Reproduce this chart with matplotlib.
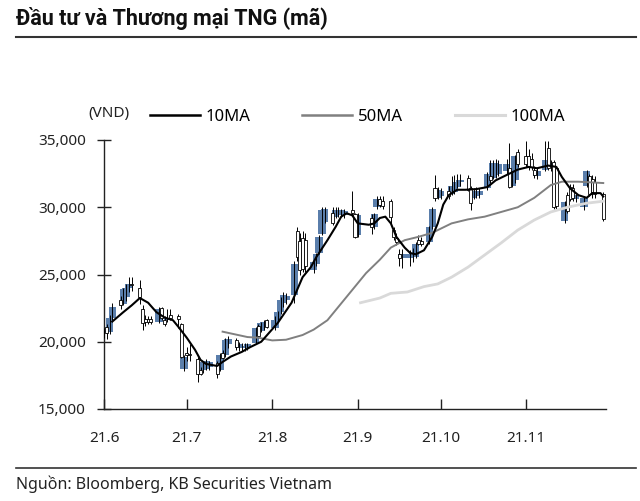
import numpy as np
import pandas as pd
import matplotlib
matplotlib.use('Agg')
import matplotlib.pyplot as plt
import matplotlib.dates as mdates
from matplotlib.lines import Line2D
from matplotlib.ticker import FuncFormatter

plt.rcParams['font.family'] = ['Noto Sans', 'DejaVu Sans']

#=============== data (prices in thousand VND) ===============
# trading days Jun 1 - Nov 29 2021, national day holiday Sep 2-3 closed
days = pd.bdate_range('2021-06-01', '2021-11-29')
days = days[~days.isin(pd.to_datetime(['2021-09-02', '2021-09-03']))]

opens = [20.7, 21.1, 20.7, 21.8, 23.1, 22.8, 23.3, 24.0, 24.3, 24.0, 22.4, 21.7, 21.7, 21.7,
         21.5, 22.5, 21.6, 21.6, 22.0, 21.9, 21.3, 18.0,
         19.2, 19.1, 18.7, 17.9, 17.9, 18.0, 18.1, 18.4, 17.9, 19.2, 19.0, 19.8,
         20.1, 19.5, 19.5, 19.6, 19.5, 19.9, 21.2, 20.8, 21.1, 21.6,
         21.0, 21.6, 22.2, 22.9, 23.1, 23.5, 28.2, 27.5, 27.7, 27.6, 25.3, 25.8, 26.6, 28.0, 28.9,
         29.6, 29.3, 29.4, 29.4, 29.4, 29.8, 29.5,
         27.9, 29.2, 28.5, 30.0, 30.6, 30.5, 30.5, 28.3, 27.7, 26.5, 26.2,
         26.2, 26.4, 26.3, 27.6, 27.5, 27.4, 28.5, 31.4, 30.7,
         30.8, 31.2, 31.0, 31.1, 31.5, 31.9, 32.2, 31.4, 30.7, 30.8, 30.9,
         31.4, 32.3, 32.2, 32.4, 32.5, 32.7, 32.9, 31.6, 32.0, 34.1,
         33.8, 33.8, 33.6, 32.8, 32.3, 32.8, 34.4, 33.0, 33.4, 32.9,
         29.0, 30.9, 31.5, 31.4, 30.6, 30.0, 31.6, 32.3, 32.1, 31.9, 31.0]
highs = [21.0, 21.3, 22.0, 22.9, 23.4, 24.0, 24.3, 24.8, 24.8, 24.6, 22.7, 22.0, 21.9, 21.9,
         22.6, 22.6, 21.9, 22.4, 22.4, 22.1, 21.4, 19.0,
         19.6, 19.8, 18.9, 18.1, 18.6, 18.7, 18.6, 18.6, 19.2, 19.4, 20.3, 20.4,
         20.3, 20.0, 19.9, 19.9, 19.9, 21.1, 21.3, 21.5, 21.6, 21.7,
         21.9, 22.3, 23.3, 23.7, 23.6, 26.0, 28.5, 28.1, 28.2, 28.1, 26.0, 26.6, 27.9, 30.0, 30.0,
         30.0, 30.0, 30.0, 29.9, 29.9, 31.2, 29.6,
         29.6, 29.5, 29.6, 30.8, 30.8, 30.8, 30.6, 28.5, 28.1, 26.9, 26.9,
         26.8, 27.0, 27.4, 27.9, 27.8, 28.6, 30.0, 32.4, 31.5,
         31.4, 31.6, 32.3, 32.4, 32.5, 32.5, 32.4, 31.6, 31.4, 31.5, 31.4,
         32.6, 33.5, 33.5, 33.6, 33.5, 33.6, 34.8, 32.7, 33.9, 34.3,
         34.9, 34.3, 34.0, 33.1, 32.9, 34.9, 34.9, 33.5, 33.5, 33.0,
         30.5, 31.1, 31.7, 31.7, 31.0, 30.8, 32.8, 32.5, 32.4, 32.3, 31.1]
lows = [20.3, 20.2, 20.6, 21.6, 22.4, 22.7, 23.0, 23.7, 23.8, 22.8, 20.9, 21.2, 21.3, 21.3,
        21.4, 21.6, 21.2, 21.5, 21.6, 21.0, 18.8, 17.8,
        18.6, 18.6, 17.0, 17.5, 17.7, 17.9, 17.9, 17.3, 17.8, 18.7, 18.9, 19.5,
        19.4, 19.3, 19.3, 19.3, 19.4, 19.8, 20.3, 20.7, 20.9, 21.0,
        20.9, 21.5, 22.1, 22.6, 22.8, 22.9, 26.0, 25.0, 25.2, 25.2, 25.1, 25.6, 26.5, 27.9, 28.8,
        28.7, 29.2, 29.3, 29.3, 29.2, 29.4, 27.7,
        27.8, 28.0, 28.4, 29.9, 30.0, 29.9, 28.7, 27.6, 27.2, 25.6, 25.5,
        25.6, 25.9, 26.2, 27.2, 27.1, 27.3, 28.4, 30.5, 30.6,
        30.6, 30.6, 30.9, 31.0, 31.4, 31.6, 31.2, 29.8, 30.6, 30.7, 30.7,
        31.3, 31.8, 32.1, 32.2, 32.3, 32.5, 31.4, 31.5, 31.8, 33.0,
        33.0, 32.8, 32.8, 32.2, 32.1, 32.7, 32.8, 32.7, 29.9, 29.9,
        28.8, 29.6, 30.5, 30.5, 30.4, 29.8, 31.5, 30.8, 30.7, 30.7, 29.0]
closes = [20.8, 20.65, 21.8, 22.6, 22.7, 23.9, 24.0, 24.3, 24.2, 23.3, 21.4, 21.5, 21.5, 21.5,
          22.4, 21.8, 21.3, 21.8, 21.8, 21.7, 18.9, 18.9,
          19.0, 19.0, 17.6, 17.6, 18.5, 18.6, 18.5, 17.6, 19.0, 18.8, 20.1, 20.2,
          19.6, 19.8, 19.7, 19.7, 19.8, 21.0, 20.4, 21.4, 21.5, 21.1,
          21.6, 22.2, 23.1, 23.5, 23.4, 25.8, 26.3, 25.3, 25.4, 25.6, 25.9, 26.5, 27.8, 29.8, 29.9,
          28.8, 29.8, 29.8, 29.8, 29.7, 29.6, 27.8,
          29.4, 28.5, 29.5, 30.6, 30.2, 30.1, 29.3, 27.8, 27.4, 26.2, 26.5,
          26.5, 26.6, 27.3, 27.3, 27.3, 28.5, 29.9, 30.7, 31.3,
          31.2, 30.8, 31.6, 31.6, 31.9, 32.0, 31.3, 30.3, 31.2, 31.2, 31.2,
          32.5, 32.0, 33.3, 33.3, 33.2, 33.2, 31.5, 32.6, 33.8, 33.2,
          33.2, 33.0, 33.0, 32.4, 32.7, 33.5, 32.9, 33.3, 30.0, 30.1,
          30.4, 29.7, 30.6, 30.7, 30.9, 30.7, 32.7, 31.0, 31.1, 31.0, 29.1]

ma10_dates = ['2021-06-04', '2021-06-08', '2021-06-11', '2021-06-14', '2021-06-17', '2021-06-20',
              '2021-06-23', '2021-06-26', '2021-06-28', '2021-07-01', '2021-07-04', '2021-07-06',
              '2021-07-08', '2021-07-12', '2021-07-14', '2021-07-17', '2021-07-21', '2021-07-24',
              '2021-07-28', '2021-08-03', '2021-08-08', '2021-08-12', '2021-08-15', '2021-08-17',
              '2021-08-21', '2021-08-24', '2021-08-26', '2021-08-28', '2021-08-30', '2021-09-01',
              '2021-09-05', '2021-09-07', '2021-09-09', '2021-09-11', '2021-09-13', '2021-09-15',
              '2021-09-18', '2021-09-20', '2021-09-22', '2021-09-25', '2021-09-28', '2021-09-30',
              '2021-10-02', '2021-10-04', '2021-10-07', '2021-10-10', '2021-10-14', '2021-10-18',
              '2021-10-21', '2021-10-25', '2021-10-29', '2021-11-02', '2021-11-05', '2021-11-09',
              '2021-11-12', '2021-11-14', '2021-11-17', '2021-11-20', '2021-11-23', '2021-11-25',
              '2021-11-28', '2021-11-29']
ma10 = [21.5, 22.2, 22.7, 23.25, 22.9, 22.2, 21.8, 21.6, 21.1, 20.3, 19.4, 18.65,
        18.35, 18.2, 18.5, 18.9, 19.25, 19.6, 20.0, 21.4, 22.9, 24.8, 25.55, 26.3,
        27.55, 28.55, 29.3, 29.55, 29.4, 28.8, 28.7, 28.8, 29.2, 29.3, 28.8, 27.8,
        27.0, 26.6, 26.5, 26.8, 27.8, 28.8, 30.2, 30.9, 31.3, 31.3, 31.35, 31.5,
        32.0, 32.4, 32.8, 33.0, 32.9, 33.1, 33.0, 32.25, 31.4, 30.9, 30.7, 31.05,
        31.05, 30.8]

ma50_dates = ['2021-07-14', '2021-07-23', '2021-07-27', '2021-08-01', '2021-08-06', '2021-08-12',
              '2021-08-16', '2021-08-21', '2021-08-25', '2021-08-30', '2021-09-04', '2021-09-09',
              '2021-09-13', '2021-09-18', '2021-09-23', '2021-09-28', '2021-09-30', '2021-10-05',
              '2021-10-11', '2021-10-17', '2021-10-23', '2021-10-29', '2021-11-04', '2021-11-10',
              '2021-11-14', '2021-11-20', '2021-11-29']
ma50 = [20.75, 20.35, 20.3, 20.1, 20.15, 20.5, 20.9, 21.6, 22.6, 23.85, 25.1, 26.1,
        27.0, 27.55, 27.8, 28.1, 28.3, 28.8, 29.1, 29.3, 29.65, 30.0, 30.7, 31.65,
        31.9, 31.9, 31.8]

ma100_dates = ['2021-09-02', '2021-09-09', '2021-09-13', '2021-09-19', '2021-09-25', '2021-09-30',
               '2021-10-05', '2021-10-11', '2021-10-17', '2021-10-23', '2021-10-29', '2021-11-04',
               '2021-11-10', '2021-11-16', '2021-11-23', '2021-11-29']
ma100 = [22.9, 23.25, 23.6, 23.7, 24.1, 24.3, 24.8, 25.55, 26.45, 27.35, 28.3, 29.05,
         29.65, 30.0, 30.3, 30.45]

month_ticks = ['2021-06-01', '2021-07-01', '2021-08-01', '2021-09-01', '2021-10-01', '2021-11-01']
month_labels = ['21.6', '21.7', '21.8', '21.9', '21.10', '21.11']

#=============== plot ===============
W, H = 640, 501
fig = plt.figure(figsize=(W / 100, H / 100), dpi=100)
ax = fig.add_axes([104 / W, 1 - 409 / H, (606 - 104) / W, (409 - 140) / H])

x = mdates.date2num(days)
o = np.array(opens); hi = np.array(highs); lo = np.array(lows); c = np.array(closes)
up = c >= o
blue = '#5a7eab'

ax.bar(x[up], (c - o)[up], bottom=o[up], width=2.7, color=blue, linewidth=0, zorder=2)
ax.vlines(x, lo, hi, color='black', linewidth=0.7, zorder=3)
ax.bar(x[~up], (o - c)[~up], bottom=c[~up], width=1.1, color='white',
       edgecolor='black', linewidth=0.6, zorder=4)

ax.plot(pd.to_datetime(ma100_dates), ma100, color='#d9d9d9', lw=2.0, zorder=5)
ax.plot(pd.to_datetime(ma50_dates), ma50, color='#808080', lw=1.4, zorder=6)
ax.plot(pd.to_datetime(ma10_dates), ma10, color='black', lw=1.5, zorder=7)

ax.set_xlim(pd.Timestamp('2021-06-01'), pd.Timestamp('2021-11-30'))
ax.set_ylim(15, 35)
ax.set_yticks([15, 20, 25, 30, 35])
ax.yaxis.set_major_formatter(FuncFormatter(lambda v, p: f'{v * 1000:,.0f}'))
ax.set_xticks(pd.to_datetime(month_ticks))
ax.set_xticklabels(month_labels)

for s in ['top', 'right']:
    ax.spines[s].set_visible(False)
for s in ['left', 'bottom']:
    ax.spines[s].set_color('#222222')
    ax.spines[s].set_linewidth(1.0)
ax.tick_params(axis='y', direction='inout', length=10, width=1, labelsize=11, pad=8, colors='#222222')
ax.tick_params(axis='x', direction='in', length=7, width=1, labelsize=11, pad=16, colors='#222222')

fig.text(88 / W, 1 - 113 / H, '(VND)', fontsize=11, va='center', ha='left', color='#222222')

handles = [Line2D([], [], color='black', lw=1.8),
           Line2D([], [], color='#808080', lw=1.8),
           Line2D([], [], color='#d9d9d9', lw=2.2)]
ax.legend(handles, ['10MA', '50MA', '100MA'], loc='center left',
          bbox_to_anchor=(150 / W, 1 - 117 / H), bbox_transform=fig.transFigure,
          ncol=3, frameon=False, fontsize=12, handlelength=3.0, handletextpad=0.35,
          columnspacing=3.1, borderpad=0, borderaxespad=0)

fig.text(16 / W, 1 - 19 / H, 'Đầu tư và Thương mại TNG (mã)', fontsize=15.5,
         fontweight='bold', family=['Roboto', 'DejaVu Sans'], va='center', ha='left',
         color='#111111')
fig.add_artist(Line2D([16 / W, 636 / W], [1 - 37 / H, 1 - 37 / H], transform=fig.transFigure,
                      color='#333333', lw=1.5))
fig.add_artist(Line2D([16 / W, 636 / W], [1 - 468 / H, 1 - 468 / H], transform=fig.transFigure,
                      color='#333333', lw=1.2))
fig.text(16 / W, 1 - 484 / H, 'Nguồn: Bloomberg, KB Securities Vietnam', fontsize=11.5,
         va='center', ha='left', color='#222222')

fig.savefig('out.png', dpi=100)
